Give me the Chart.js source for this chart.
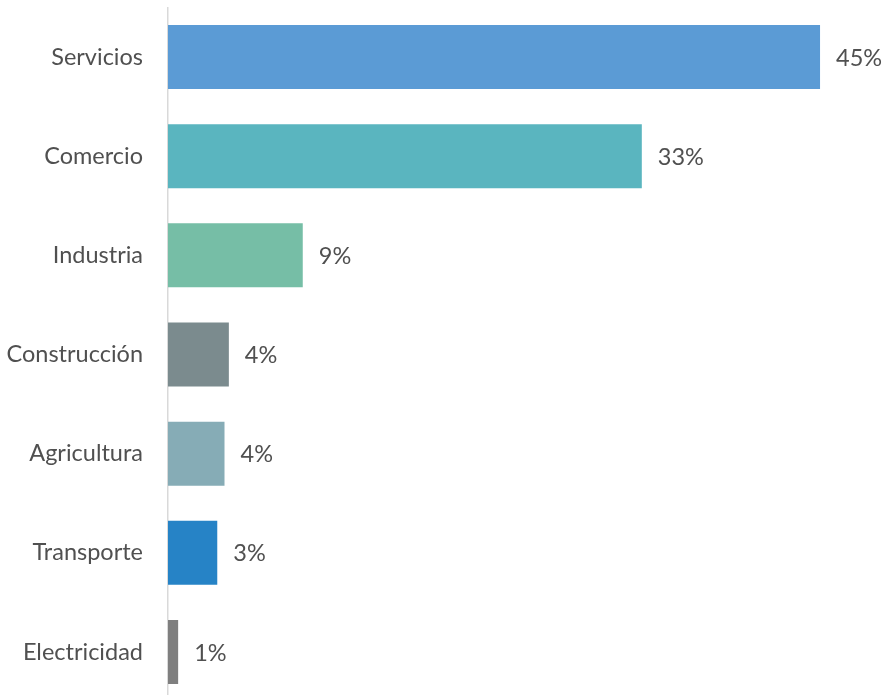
<!DOCTYPE html>
<html>
<head>
<meta charset="utf-8">
<script src="https://cdn.jsdelivr.net/npm/chart.js@4"></script>
<style>
  html, body { margin: 0; padding: 0; background: #fff; overflow: hidden; }
  #wrap { width: 890px; height: 709px; position: relative; }
</style>
</head>
<body>
<div id="wrap"><canvas id="sectorChart"></canvas></div>
<script>
// Participación por sector
const sectores = ['Servicios', 'Comercio', 'Industria', 'Construcción', 'Agricultura', 'Transporte', 'Electricidad'];
const participacion = [45.0, 32.7, 9.3, 4.2, 3.9, 3.4, 0.7];
const colores = ['#5B9BD5', '#5AB5BF', '#76BEA6', '#7B8B8E', '#86ACB6', '#2683C6', '#7F7F7F'];

const textColor = '#505050';
const fontFamily = 'Lato, "Open Sans", sans-serif';

// draws the % labels at the end of each bar
const barLabels = {
    id: 'barLabels',
    afterDatasetsDraw(chart) {
        const ctx = chart.ctx;
        const meta = chart.getDatasetMeta(0);
        ctx.save();
        ctx.font = '23.5px ' + fontFamily;
        ctx.fillStyle = textColor;
        ctx.textAlign = 'left';
        ctx.textBaseline = 'middle';
        meta.data.forEach(function(bar, i) {
            const value = chart.data.datasets[0].data[i];
            ctx.fillText(Math.round(value) + '%', bar.x + 16, bar.y + 1);
        });
        ctx.restore();
    }
};

new Chart(document.getElementById('sectorChart'), {
    type: 'bar',
    data: {
        labels: sectores,
        datasets: [{
            data: participacion,
            backgroundColor: colores,
            borderWidth: 0,
            categoryPercentage: 1,
            barPercentage: 0.645
        }]
    },
    options: {
        indexAxis: 'y',
        responsive: true,
        maintainAspectRatio: false,
        animation: false,
        layout: { padding: { left: 0, right: 12, top: 0, bottom: 0 } },
        plugins: {
            legend: { display: false },
            tooltip: { enabled: false }
        },
        scales: {
            x: {
                display: false,
                min: 0,
                max: 49
            },
            y: {
                afterFit: function(scale) { scale.width = 168; },
                grid: { display: false, drawTicks: true, tickLength: 25 },
                border: { display: true, color: '#D9D9D9', width: 1.5 },
                ticks: {
                    padding: 0,
                    color: textColor,
                    font: { family: fontFamily, size: 23.5, lineHeight: 0.63 }
                }
            }
        }
    },
    plugins: [barLabels]
});
</script>
</body>
</html>
